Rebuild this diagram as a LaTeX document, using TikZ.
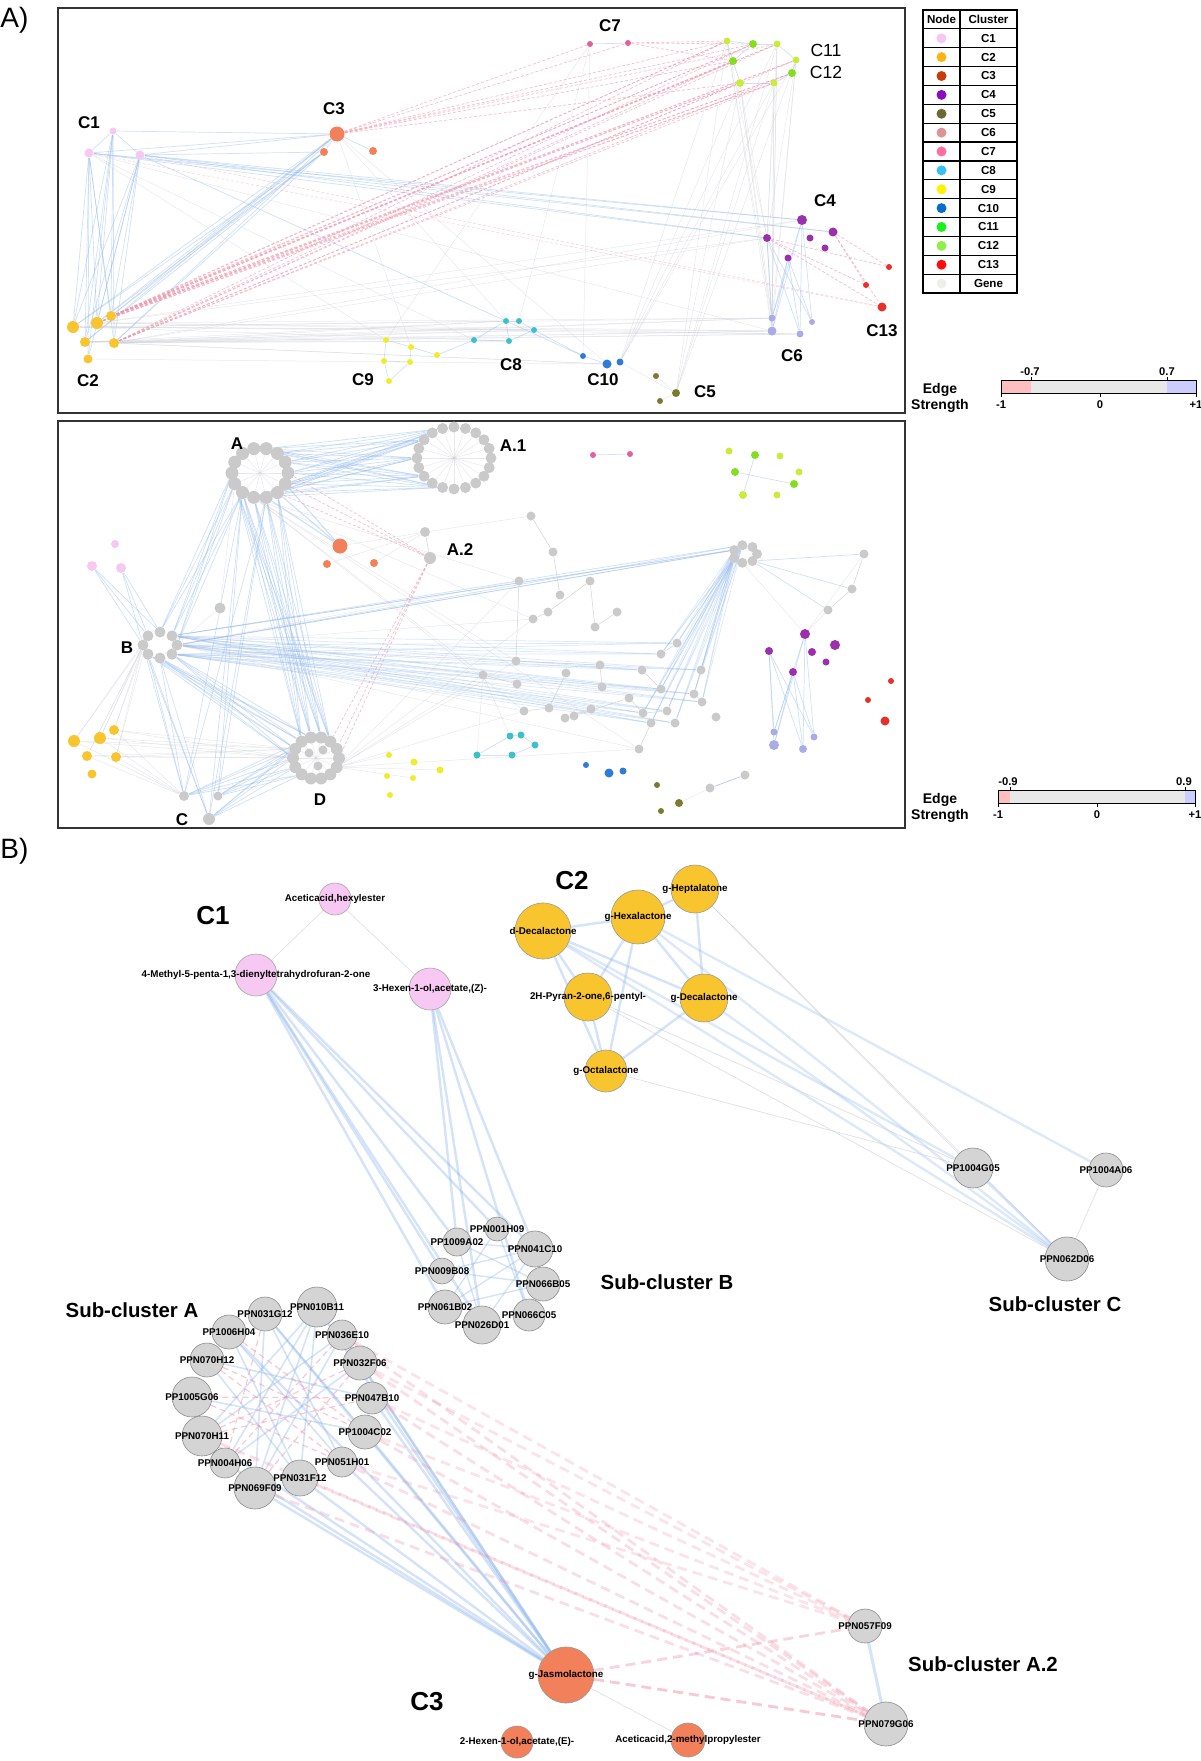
\documentclass[tikz,border=0pt]{standalone}
\usepackage{fontspec}
\setmainfont{Liberation Sans}
\usetikzlibrary{calc, backgrounds}

% legend colours
\definecolor{cone}{HTML}{F7C6F1}
\definecolor{ctwo}{HTML}{FFB412}
\definecolor{cthree}{HTML}{C93C0A}
\definecolor{cfour}{HTML}{8A0DC0}
\definecolor{cfive}{HTML}{6A6A32}
\definecolor{csix}{HTML}{D99494}
\definecolor{cseven}{HTML}{FF6E9C}
\definecolor{ceight}{HTML}{33C3F3}
\definecolor{cnine}{HTML}{FFF200}
\definecolor{cten}{HTML}{0A6EC8}
\definecolor{celeven}{HTML}{19F019}
\definecolor{ctwelve}{HTML}{8CF046}
\definecolor{cthirteen}{HTML}{FF0D0D}
\definecolor{cgene}{HTML}{EFEFEA}
% network colours
\definecolor{coneN}{HTML}{F6C8F2}
\definecolor{ctwoN}{HTML}{F8C52E}
\definecolor{cthreeN}{HTML}{F2805A}
\definecolor{cfourN}{HTML}{9C2FAE}
\definecolor{cfiveN}{HTML}{7A7A30}
\definecolor{csixN}{HTML}{ABABE8}
\definecolor{csevenN}{HTML}{E1609F}
\definecolor{ceightN}{HTML}{3CC0CC}
\definecolor{cnineN}{HTML}{F0EC2A}
\definecolor{ctenN}{HTML}{2F7BDA}
\definecolor{celevenN}{HTML}{86DC1E}
\definecolor{ctwelveN}{HTML}{C8EC3C}
\definecolor{cthirteenN}{HTML}{E5302C}
\definecolor{netgray}{HTML}{CACACA}
\definecolor{eblue}{HTML}{8FB6EA}
\definecolor{ered}{HTML}{EE93A8}
\definecolor{egray}{HTML}{C4C8D0}

\tikzset{
  ndot/.style={circle, inner sep=0pt, minimum size=#1pt},
  gdot/.style={ndot=#1, fill=netgray},
  bnode/.style={circle, inner sep=0pt, minimum size=#1pt, line width=0.3pt,
    font=\fontsize{4.9}{5}\selectfont\bfseries},
  pinkB/.style={fill=coneN, draw=black!35},
  goldB/.style={fill=ctwoN, draw=black!40},
  oranB/.style={fill=cthreeN, draw=black!40},
  grayB/.style={fill=black!17, draw=black!45},
  posE/.style={draw=eblue, line width=0.35pt, opacity=0.42},
  negE/.style={draw=ered, line width=0.35pt, dash pattern=on 1.5pt off 1pt, opacity=0.6},
  weakE/.style={draw=egray, line width=0.25pt, opacity=0.4},
  bposE/.style={draw=eblue, line width=1.2pt, opacity=0.38},
  bnegE/.style={draw=ered, line width=1.4pt, dash pattern=on 5pt off 3pt, opacity=0.5},
  bweakE/.style={draw=egray, line width=0.4pt, opacity=0.5},
  frame/.style={draw=black!80, line width=0.6pt},
  clab/.style={inner sep=0pt, font=\fontsize{8.5}{9}\selectfont\bfseries},
  clabr/.style={inner sep=0pt, font=\fontsize{8.8}{9}\selectfont},
  slab/.style={inner sep=0pt, font=\fontsize{10.2}{11}\selectfont\bfseries},
  glab/.style={inner sep=0pt, font=\fontsize{13}{14}\selectfont\bfseries},
  keytxt/.style={inner sep=0pt, font=\fontsize{5.8}{6}\selectfont\bfseries},
  bartxt/.style={inner sep=0pt, font=\fontsize{5.6}{6}\selectfont\bfseries},
  edgetxt/.style={inner sep=0pt, font=\fontsize{7}{8}\selectfont\bfseries},
  panel/.style={anchor=west, inner sep=0pt, font=\fontsize{14}{16}\selectfont},
}

\begin{document}
\begin{tikzpicture}[x=0.5pt, y=-0.5pt]
  \useasboundingbox (0,0) rectangle (1200,1761);

  % ================= A) top network =================
  \node[panel] (tagA) at (0,20) {A)};
  \draw[frame] (58,8) rectangle (905,413);

  % Metabolite clusters
  \foreach \n/\x/\y/\sz in {a/113/131/3.5, b/89/153/4.5, c/140/155/4.5}
    \node[ndot=\sz, fill=coneN] (tC1\n) at (\x,\y) {};
  \foreach \n/\x/\y/\sz in {a/73/327/6, b/97/323/6, c/111/316/5, d/85/342/5, e/114/343/5, f/88/359/4.5}
    \node[ndot=\sz, fill=ctwoN] (tC2\n) at (\x,\y) {};
  \foreach \n/\x/\y/\sz in {a/337/134/7.5, b/324/152/4, c/373/151/4}
    \node[ndot=\sz, fill=cthreeN] (tC3\n) at (\x,\y) {};
  \foreach \n/\x/\y/\sz in {a/590/44/3, b/628/43/3}
    \node[ndot=\sz, fill=csevenN] (tC7\n) at (\x,\y) {};
  \foreach \n/\x/\y/\sz in {b/753/44/4, d/733/61/4, f/792/73/4}
    \node[ndot=\sz, fill=celevenN] (tG\n) at (\x,\y) {};
  \foreach \n/\x/\y/\sz in {a/727/41/3.5, c/777/44/3.5, e/796/60/3.5, g/740/83/4, h/774/83/3.5}
    \node[ndot=\sz, fill=ctwelveN] (tG\n) at (\x,\y) {};
  \foreach \n/\x/\y/\sz in {a/802/220/5, b/833/232/4.5, c/767/238/4, d/810/238/3.5, e/825/248/3.5, f/788/258/3.5}
    \node[ndot=\sz, fill=cfourN] (tC4\n) at (\x,\y) {};
  \foreach \n/\x/\y/\sz in {a/889/267/3, b/866/285/3, c/882/307/4.5}
    \node[ndot=\sz, fill=cthirteenN] (tC13\n) at (\x,\y) {};
  \foreach \n/\x/\y/\sz in {a/772/318/3.5, b/812/322/3, c/772/331/4.5, d/800/334/3.5}
    \node[ndot=\sz, fill=csixN] (tC6\n) at (\x,\y) {};
  \foreach \n/\x/\y/\sz in {a/506/321/3, b/519/321/3, c/534/330/3, d/474/340/3, e/509/341/3}
    \node[ndot=\sz, fill=ceightN] (tC8\n) at (\x,\y) {};
  \foreach \n/\x/\y/\sz in {a/386/340/3, b/411/347/3, c/437/355/3, d/384/361/3, e/410/362/3, f/389/381/3}
    \node[ndot=\sz, fill=cnineN] (tC9\n) at (\x,\y) {};
  \foreach \n/\x/\y/\sz in {a/583/356/3, b/607/364/4.5, c/620/362/3.5}
    \node[ndot=\sz, fill=ctenN] (tC10\n) at (\x,\y) {};
  \foreach \n/\x/\y/\sz in {a/656/376/3, b/676/393/4, c/660/401/3}
    \node[ndot=\sz, fill=cfiveN] (tC5\n) at (\x,\y) {};

  % Cluster labels
  \foreach \n/\x/\y in {C1/89/123, C2/88/381, C3/334/109, C7/610/26, C4/825/201,
                        C13/882/331, C6/792/356, C8/511/365, C9/363/380, C10/603/380, C5/705/392}
    \node[clab] (tl\n) at (\x,\y) {\n};
  \node[clabr] (tlC11) at (826,50) {C11};
  \node[clabr] (tlC12) at (826,72) {C12};

  % ================= A) bottom network =================
  \draw[frame] (58,421) rectangle (905,828);

  % Gene rings
  \foreach \k in {1,...,14}
    \node[gdot=6.5] (rA\k) at ($(260,473)+(\k*360/14:28 and 25)$) {};
  \foreach \k in {1,...,20}
    \node[gdot=5.5] (rAo\k) at ($(454,458)+(\k*360/20:37 and 31)$) {};
  \foreach \k in {1,...,8}
    \node[gdot=5.5] (rB\k) at ($(160,645)+(\k*360/8:17 and 13)$) {};
  \foreach \k in {1,...,14}
    \node[gdot=6] (rD\k) at ($(316,758)+(\k*360/14:23 and 21)$) {};
  \foreach \k in {1,...,7}
    \node[gdot=5] (rR\k) at ($(745,554)+(\k*360/7:12 and 9)$) {};
  \node[gdot=4.5] (rDi1) at (309,753) {};
  \node[gdot=4.5] (rDi2) at (323,750) {};
  \node[gdot=4.5] (rDi3) at (318,766) {};

  % Single genes
  \foreach \x/\y [count=\i] in {553/552, 519/581, 590/581, 560/595, 548/612, 533/619, 617/612, 595/627,
      677/643, 661/654, 516/661, 600/665, 642/670, 701/670, 566/673, 483/675, 517/684, 602/687,
      661/689, 694/694, 629/698, 702/702, 549/708, 524/711, 591/709, 643/713, 667/711, 565/718,
      574/716, 651/723, 675/723, 716/717, 639/749, 864/554, 852/589, 828/610, 710/788, 745/775, 531/516}
    \node[gdot=4.5] (m\i) at (\x,\y) {};
  \node[gdot=5] (bA2a) at (425,532) {};
  \node[gdot=6] (bA2b) at (430,558) {};
  \node[gdot=5.5] (bLone) at (220,608) {};
  \node[gdot=5] (bCa) at (184,796) {};
  \node[gdot=6] (bCb) at (209,819) {};
  \node[gdot=4.5] (bCc) at (218,796) {};

  % Metabolite clusters
  \foreach \n/\x/\y/\sz in {a/115/544/4, b/92/566/5, c/121/568/5}
    \node[ndot=\sz, fill=coneN] (bC1\n) at (\x,\y) {};
  \foreach \n/\x/\y/\sz in {a/74/741/6, b/100/738/6, c/114/730/5, d/87/756/5, e/116/757/5, f/92/774/4.5}
    \node[ndot=\sz, fill=ctwoN] (bC2\n) at (\x,\y) {};
  \foreach \n/\x/\y/\sz in {a/340/546/7.5, b/327/564/4, c/374/563/4}
    \node[ndot=\sz, fill=cthreeN] (bC3\n) at (\x,\y) {};
  \foreach \n/\x/\y/\sz in {a/593/455/3, b/630/454/3}
    \node[ndot=\sz, fill=csevenN] (bC7\n) at (\x,\y) {};
  \foreach \n/\x/\y/\sz in {b/755/455/4, d/735/472/4, f/794/484/4}
    \node[ndot=\sz, fill=celevenN] (bG\n) at (\x,\y) {};
  \foreach \n/\x/\y/\sz in {a/729/451/3.5, c/780/456/3.5, e/799/472/3.5, g/743/495/4, h/777/495/3.5}
    \node[ndot=\sz, fill=ctwelveN] (bG\n) at (\x,\y) {};
  \foreach \n/\x/\y/\sz in {a/805/634/5, b/835/645/5, c/769/651/4, d/812/652/4, e/826/662/3.5, f/793/672/4}
    \node[ndot=\sz, fill=cfourN] (bC4\n) at (\x,\y) {};
  \foreach \n/\x/\y/\sz in {a/891/681/3, b/868/700/3, c/885/721/4.5}
    \node[ndot=\sz, fill=cthirteenN] (bC13\n) at (\x,\y) {};
  \foreach \n/\x/\y/\sz in {a/774/732/3.5, b/814/737/3.5, c/774/745/5, d/803/749/4}
    \node[ndot=\sz, fill=csixN] (bC6\n) at (\x,\y) {};
  \foreach \n/\x/\y/\sz in {a/510/736/3.5, b/521/735/3.5, c/535/745/3.5, d/477/755/3.5, e/512/755/3.5}
    \node[ndot=\sz, fill=ceightN] (bC8\n) at (\x,\y) {};
  \foreach \n/\x/\y/\sz in {a/389/755/3, b/414/762/3.5, c/440/770/3.5, d/387/776/3, e/413/778/3, f/390/795/3}
    \node[ndot=\sz, fill=cnineN] (bC9\n) at (\x,\y) {};
  \foreach \n/\x/\y/\sz in {a/586/765/3, b/609/773/4.5, c/623/771/3.5}
    \node[ndot=\sz, fill=ctenN] (bC10\n) at (\x,\y) {};
  \foreach \n/\x/\y/\sz in {a/657/785/3, b/679/803/4, c/661/811/3}
    \node[ndot=\sz, fill=cfiveN] (bC5\n) at (\x,\y) {};

  % Sub-cluster labels
  \foreach \n/\x/\y in {A/237/444, A.1/513/446, A.2/460/550, B/127/648, C/182/820, D/320/800}
    \node[clab] (bl\n) at (\x,\y) {\n};

  % ================= Legend =================
  \draw[line width=0.6pt] (923,10) rectangle (1017,293);
  \draw[line width=0.6pt] (960,10) -- (960,293);
  \foreach \i in {1,...,14}
    \draw[line width=0.6pt] (923,{10+18.87*\i}) -- (1017,{10+18.87*\i});
  \node[keytxt] (keyhA) at (941.5,19.4) {Node};
  \node[keytxt] (keyhB) at (988.5,19.4) {Cluster};
  \foreach \i/\cl/\tx in {1/cone/C1, 2/ctwo/C2, 3/cthree/C3, 4/cfour/C4, 5/cfive/C5, 6/csix/C6,
      7/cseven/C7, 8/ceight/C8, 9/cnine/C9, 10/cten/C10, 11/celeven/C11, 12/ctwelve/C12,
      13/cthirteen/C13, 14/cgene/Gene} {
    \node[ndot=5, fill=\cl] (key\i) at (941.5,{19.4+18.87*\i}) {};
    \node[keytxt] (keyt\i) at (988.5,{19.4+18.87*\i}) {\tx};
  }

  % ================= Edge strength bars =================
  \fill[red!25] (1001,380) rectangle (1031,393);
  \fill[black!9] (1031,380) rectangle (1167,393);
  \fill[blue!20] (1167,380) rectangle (1196,393);
  \draw[line width=0.5pt] (1001,380) rectangle (1196,393);
  \foreach \x in {1001,1100,1196} \draw[line width=0.5pt] (\x,393) -- (\x,397);
  \foreach \x in {1031,1167} \draw[line width=0.5pt] (\x,377) -- (\x,380);
  \node[bartxt, anchor=south] (barAlo) at (1030,376) {-0.7};
  \node[bartxt, anchor=south] (barAhi) at (1167,376) {0.7};
  \node[bartxt, anchor=north] (barAm) at (1001,400) {-1};
  \node[bartxt, anchor=north] (barAz) at (1100,400) {0};
  \node[bartxt, anchor=north] (barAp) at (1196,400) {+1};
  \node[edgetxt] (edgeA) at (940,390) {Edge};
  \node[edgetxt] (strA) at (940,406) {Strength};

  \fill[red!25] (998,790) rectangle (1010,803);
  \fill[black!9] (1010,790) rectangle (1185,803);
  \fill[blue!20] (1185,790) rectangle (1195,803);
  \draw[line width=0.5pt] (998,790) rectangle (1195,803);
  \foreach \x in {998,1097,1195} \draw[line width=0.5pt] (\x,803) -- (\x,807);
  \foreach \x in {1010,1185} \draw[line width=0.5pt] (\x,787) -- (\x,790);
  \node[bartxt, anchor=south] (barBlo) at (1008,786) {-0.9};
  \node[bartxt, anchor=south] (barBhi) at (1184,786) {0.9};
  \node[bartxt, anchor=north] (barBm) at (998,810) {-1};
  \node[bartxt, anchor=north] (barBz) at (1097,810) {0};
  \node[bartxt, anchor=north] (barBp) at (1195,810) {+1};
  \node[edgetxt] (edgeB) at (940,800) {Edge};
  \node[edgetxt] (strB) at (940,816) {Strength};

  % ================= B) detail network =================
  \node[panel] (tagB) at (0,851) {B)};

  % C1
  \node[bnode=16, pinkB] (hexyl) at (335,899) {\makebox[0pt]{Aceticacid,hexylester}};
  \node[bnode=21, pinkB] (methyl) at (256,975) {\makebox[0pt]{4-Methyl-5-penta-1,3-dienyltetrahydrofuran-2-one}};
  \node[bnode=21, pinkB] (hexenZ) at (430,989) {\makebox[0pt]{3-Hexen-1-ol,acetate,(Z)-}};
  % C2
  \node[bnode=28, goldB] (dDeca) at (543,931) {\makebox[0pt]{d-Decalactone}};
  \node[bnode=27, goldB] (gHexa) at (638,917) {\makebox[0pt]{g-Hexalactone}};
  \node[bnode=24, goldB] (gHepta) at (695,889) {\makebox[0pt]{g-Heptalatone}};
  \node[bnode=24, goldB] (pyran) at (588,997) {\makebox[0pt]{2H-Pyran-2-one,6-pentyl-}};
  \node[bnode=24, goldB] (gDeca) at (704,998) {\makebox[0pt]{g-Decalactone}};
  \node[bnode=21, goldB] (gOcta) at (606,1071) {\makebox[0pt]{g-Octalactone}};
  % Sub-cluster C
  \node[bnode=20, grayB] (g05) at (973,1168) {\makebox[0pt]{PP1004G05}};
  \node[bnode=17, grayB] (a06) at (1106,1170) {\makebox[0pt]{PP1004A06}};
  \node[bnode=22, grayB] (d06) at (1067,1259) {\makebox[0pt]{PPN062D06}};
  % Sub-cluster B
  \node[bnode=12, grayB] (h09) at (497,1229) {\makebox[0pt]{PPN001H09}};
  \node[bnode=14, grayB] (a02) at (457,1242) {\makebox[0pt]{PP1009A02}};
  \node[bnode=18, grayB] (c10) at (535,1249) {\makebox[0pt]{PPN041C10}};
  \node[bnode=13, grayB] (b08) at (442,1271) {\makebox[0pt]{PPN009B08}};
  \node[bnode=17, grayB] (b05) at (543,1284) {\makebox[0pt]{PPN066B05}};
  \node[bnode=17, grayB] (b02) at (445,1307) {\makebox[0pt]{PPN061B02}};
  \node[bnode=16, grayB] (c05) at (529,1315) {\makebox[0pt]{PPN066C05}};
  \node[bnode=19, grayB] (d01) at (482,1325) {\makebox[0pt]{PPN026D01}};
  % Sub-cluster A
  \node[bnode=17, grayB] (g12) at (265,1314) {\makebox[0pt]{PPN031G12}};
  \node[bnode=20, grayB] (b11) at (317,1307) {\makebox[0pt]{PPN010B11}};
  \node[bnode=17, grayB] (h04) at (229,1332) {\makebox[0pt]{PP1006H04}};
  \node[bnode=15, grayB] (e10) at (342,1335) {\makebox[0pt]{PPN036E10}};
  \node[bnode=17, grayB] (h12) at (207,1360) {\makebox[0pt]{PPN070H12}};
  \node[bnode=17, grayB] (f06) at (360,1363) {\makebox[0pt]{PPN032F06}};
  \node[bnode=20, grayB] (g06) at (192,1397) {\makebox[0pt]{PP1005G06}};
  \node[bnode=16, grayB] (b10) at (372,1398) {\makebox[0pt]{PPN047B10}};
  \node[bnode=20, grayB] (h11) at (202,1436) {\makebox[0pt]{PPN070H11}};
  \node[bnode=17, grayB] (c02) at (365,1432) {\makebox[0pt]{PP1004C02}};
  \node[bnode=15, grayB] (h06) at (225,1463) {\makebox[0pt]{PPN004H06}};
  \node[bnode=15, grayB] (h01) at (342,1462) {\makebox[0pt]{PPN051H01}};
  \node[bnode=21, grayB] (f09) at (255,1488) {\makebox[0pt]{PPN069F09}};
  \node[bnode=18, grayB] (f12) at (300,1478) {\makebox[0pt]{PPN031F12}};
  % Sub-cluster A.2
  \node[bnode=17, grayB] (p57) at (865,1626) {\makebox[0pt]{PPN057F09}};
  \node[bnode=22, grayB] (p79) at (886,1724) {\makebox[0pt]{PPN079G06}};
  % C3
  \node[bnode=28, oranB] (jasmo) at (566,1675) {\makebox[0pt]{g-Jasmolactone}};
  \node[bnode=16, oranB] (hexenE) at (517,1742) {\makebox[0pt]{2-Hexen-1-ol,acetate,(E)-}};
  \node[bnode=17, oranB] (methprop) at (688,1740) {\makebox[0pt]{Aceticacid,2-methylpropylester}};

  % Group labels
  \node[glab] (gC1) at (213,916) {C1};
  \node[glab] (gC2) at (572,881) {C2};
  \node[glab] (gC3) at (427,1702) {C3};
  \node[slab] (sA) at (132,1310) {Sub-cluster A};
  \node[slab] (sB) at (667,1282) {Sub-cluster B};
  \node[slab] (sC) at (1055,1304) {Sub-cluster C};
  \node[slab] (sA2) at (983,1664) {Sub-cluster A.2};

  % ================= Connectors =================
  \begin{scope}[on background layer]
    % --- top network
    \foreach \ii in {a,b,c} \foreach \jj in {a,b,c,d,e,f} \draw[posE] (tC1\ii) -- (tC2\jj);
    \foreach \ii in {b,c} \foreach \jj in {a,b,c} \draw[posE] (tC1\ii) -- (tC4\jj);
    \foreach \ii in {a,b,c} \draw[posE] (tC1\ii) -- (tC3a);
    \draw[posE] (tC1c) -- (tC3b);
    \foreach \ii in {a,b} \foreach \jj in {a,b,c,d,e} \draw[posE] (tC3\ii) -- (tC2\jj);
    \foreach \ii in {b,c,e} \foreach \jj in {a,b,c,d,e,f,g,h} \draw[negE] (tC2\ii) -- (tG\jj);
    \foreach \jj in {a,b,c,d,g} \draw[negE] (tC3a) -- (tG\jj);
    \foreach \jj in {a,b} \draw[negE] (tC3a) -- (tC7\jj);
    \foreach \jj in {a,b,d} \draw[negE] (tC7b) -- (tG\jj);
    \foreach \ii in {b,c} \draw[negE, opacity=0.35] (tC1\ii) -- (tC13c);
    \foreach \ii in {b,c} \foreach \jj in {a,b,c} \draw[negE] (tC4\ii) -- (tC13\jj);
    \foreach \ii in {a,c,f} \foreach \jj in {a,b,c,d} \draw[posE] (tC4\ii) -- (tC6\jj);
    \foreach \ii in {a,b,d,e} \foreach \jj in {a,c,d} \draw[weakE] (tC2\ii) -- (tC6\jj);
    \foreach \ii in {a,d,e} \foreach \jj in {a,c,e} \draw[weakE] (tC2\ii) -- (tC8\jj);
    \foreach \ii in {b,e} \foreach \jj in {c,a} \draw[weakE] (tC2\ii) -- (tC4\jj);
    \foreach \ii in {d,e,f} \draw[weakE] (tC2\ii) -- (tC10b);
    \foreach \ii/\jj in {a/b, a/d, b/c, d/e, c/e, a/e} \draw[posE] (tC8\ii) -- (tC8\jj);
    \foreach \ii/\jj in {a/b, b/c, b/e, d/e, a/d, e/f, d/f} \draw[posE] (tC9\ii) -- (tC9\jj);
    \draw[posE] (tC9c) -- (tC8d); \draw[posE] (tC8c) -- (tC10a); \draw[posE] (tC10a) -- (tC10b);
    \draw[weakE] (tC10c) -- (tC5b); \draw[weakE] (tC5a) -- (tC5b); \draw[weakE] (tC5b) -- (tC5c);
    \foreach \ii in {a,c,e,g,h} \foreach \jj in {tC6a,tC6c,tC5b,tC10c,tC4c} \draw[weakE] (tG\ii) -- (\jj);
    \foreach \ii/\jj in {a/b, b/c, a/d, d/g, g/h, c/e, e/f, b/d, f/h} \draw[posE] (tG\ii) -- (tG\jj);
    \draw[posE] (tC7a) -- (tC7b);
    \foreach \jj in {tC8b,tC9a,tC10a} \draw[weakE] (tC7a) -- (\jj);
    \foreach \jj in {tC8a,tC9b,tC10b} \draw[weakE] (tC3a) -- (\jj);
    \foreach \jj in {tC9a,tC8d,tC6c} \draw[weakE] (tC1b) -- (\jj);
    \draw[posE] (tC1c) -- (tC10a);
    \draw[posE] (tC3a) -- (tC3b); \draw[posE] (tC3a) -- (tC3c);
    \draw[posE] (tC1a) -- (tC1b); \draw[posE] (tC1a) -- (tC1c);

    % --- bottom network
    \foreach \ii in {1,2,4,11,12,13,14} \foreach \jj in {6,8,10,12,14} \draw[posE] (rA\ii) -- (rAo\jj);
    \foreach \ii [evaluate=\ii as \jj using int(\ii+7)] in {1,...,7} \draw[weakE] (rA\ii) -- (rA\jj);
    \foreach \ii [evaluate=\ii as \jj using int(\ii+10)] in {1,...,10} \draw[weakE] (rAo\ii) -- (rAo\jj);
    \foreach \ii [evaluate=\ii as \jj using int(\ii+7)] in {1,...,7} \draw[weakE] (rD\ii) -- (rD\jj);
    \foreach \ii in {2,3,4,5,6} \foreach \jj in {9,10,11,12} \draw[posE] (rA\ii) -- (rD\jj);
    \foreach \ii in {3,5} \foreach \jj in {bCa,bCb,bCc} \draw[posE] (rA\ii) -- (\jj);
    \foreach \ii in {1,2,3} \draw[posE, line width=0.6pt] (rA\ii) -- (bC3a);
    \foreach \ii in {1,2,14} \draw[negE] (rA\ii) -- (bA2b);
    \foreach \jj in {12,13,14} \draw[negE] (bA2b) -- (rD\jj);
    \foreach \ii in {5,6,7} \foreach \jj in {6,7,8} \draw[posE] (rA\ii) -- (rB\jj);
    \foreach \ii in {1,7,8} \foreach \jj in {9,10,13,14,19,20,22,26,27,30,31} \draw[posE, opacity=0.32] (rB\ii) -- (m\jj);
    \foreach \ii in {7,8} \foreach \jj in {4,5,6} \draw[posE] (rB\ii) -- (rR\jj);
    \foreach \ii in {1,2,3} \foreach \jj in {7,8,9,10} \draw[posE] (rB\ii) -- (rD\jj);
    \foreach \ii in {2,3,4} \foreach \jj in {bCa,bCb} \draw[posE] (rB\ii) -- (\jj);
    \foreach \ii in {5,6,7,8,9} \foreach \jj in {bCa,bCb,bCc} \draw[posE] (\jj) -- (rD\ii);
    \foreach \ii in {b,c} \foreach \jj in {4,5,6} \draw[posE] (bC1\ii) -- (rB\jj);
    \foreach \ii in {3,4,5} \foreach \jj in {9,10,14,19,20,22,26,27,30,31} \draw[posE, opacity=0.32] (rR\ii) -- (m\jj);
    \foreach \jj in {34,35,36} \draw[posE] (rR1) -- (m\jj);
    \foreach \ii/\jj in {39/1, 1/4, 3/5, 5/6, 7/8, 8/3, 12/18, 15/23, 23/24, 21/26, 26/27, 33/30,
        37/38, 34/35, 35/36, 22/20, 20/14, 19/13, 25/28, 10/9, 29/21, 2/11, 16/17, 11/12}
      \draw[weakE, opacity=0.8] (m\ii) -- (m\jj);
    \foreach \ii in {2,6,11,16,24,33} \foreach \jj in {rA4,rB8,rD1} \draw[weakE] (m\ii) -- (\jj);
    \draw[weakE, opacity=0.8] (bA2a) -- (bA2b); \draw[weakE] (bA2a) -- (m39);
    \draw[weakE] (bLone) -- (rB2); \draw[weakE] (bLone) -- (rA6);
    \foreach \ii in {a,b,c,d,e} \foreach \jj in {rB4,rB5,rD7,rD8,bCa} \draw[weakE] (bC2\ii) -- (\jj);
    \foreach \ii in {a,c,e} \draw[weakE] (bC9\ii) -- (rD1);
    \foreach \ii in {a,d} \draw[weakE] (bC8\ii) -- (m16);
    \foreach \ii in {a,b,c} \draw[weakE] (bC3\ii) -- (bA2a);
    \foreach \ii in {a,c,f} \foreach \jj in {a,b,c,d} \draw[posE] (bC4\ii) -- (bC6\jj);
    \foreach \ii/\jj in {a/b, a/d, b/c, d/e, c/e} \draw[posE] (bC8\ii) -- (bC8\jj);
    \draw[posE] (bGd) -- (bGf); \draw[posE] (bGb) -- (bGg);
    \draw[posE] (bC7a) -- (bC7b);
    \draw[weakE] (bC5b) -- (m37); \draw[posE] (m37) -- (m38);
    \foreach \jj in {m34,m36,rR2} \draw[weakE] (bC4a) -- (\jj);

    % --- B) detail network
    \foreach \tg in {a02,b08,b02,d01,c10,h09} \draw[bposE] (methyl) -- (\tg);
    \foreach \tg in {c10,d01,c05,a02} \draw[bposE] (hexenZ) -- (\tg);
    \draw[bweakE] (hexyl) -- (methyl); \draw[bweakE] (hexyl) -- (hexenZ);
    \foreach \src/\tg in {dDeca/gHexa, dDeca/pyran, dDeca/gDeca, dDeca/gOcta, gHexa/gHepta,
        gHexa/gDeca, gHexa/pyran, gHexa/gOcta, gHepta/gDeca, pyran/gOcta, gDeca/gOcta}
      \draw[bposE] (\src) -- (\tg);
    \foreach \src/\tg in {dDeca/d06, dDeca/g05, gHexa/a06, gDeca/d06, gHexa/d06}
      \draw[bposE, opacity=0.3] (\src) -- (\tg);
    \foreach \src/\tg in {gHepta/g05, gHepta/d06, pyran/d06, gOcta/g05, pyran/g05}
      \draw[bweakE] (\src) -- (\tg);
    \draw[bposE] (g05) -- (d06); \draw[bweakE] (a06) -- (d06);
    \foreach \src/\tg in {a02/c10, b08/c10, b02/c10, a02/b05, b08/b05, b02/h09, d01/c10,
        b02/b05, a02/d01, h09/c05}
      \draw[bposE, line width=0.7pt] (\src) -- (\tg);
    \foreach \src/\tg in {g12/f09, b11/f12, h04/h01, g12/c02, b11/h11, e10/f09, h12/b10,
        g06/c02, h04/f12, b11/h06, g12/h01, h12/f12, e10/h11, f06/h06, b11/f09}
      \draw[bposE, line width=0.8pt] (\src) -- (\tg);
    \foreach \src/\tg in {h12/c02, g06/b10, h11/f06, h04/c02, h06/e10, g06/h01, h12/h01,
        h11/b10, f09/f06, g12/h06}
      \draw[bnegE, line width=0.6pt, dash pattern=on 3pt off 2pt] (\src) -- (\tg);
    \foreach \src in {f09,f12,h01,c02,b10,f06,e10,b11,g12,h06,h11,h04}
      \draw[bposE] (\src) -- (jasmo);
    \foreach \src in {f06,b10,c02,h01,f12,f09,h11,e10}
      \draw[bnegE, opacity=0.3] (\src) -- (p79);
    \foreach \src in {e10,f06,b10,c02,h01}
      \draw[bnegE, opacity=0.25] (\src) -- (p57);
    \draw[bnegE] (jasmo) -- (p79); \draw[bnegE, opacity=0.4] (jasmo) -- (p57);
    \draw[bposE, line width=1.5pt] (p57) -- (p79);
    \draw[bweakE] (jasmo) -- (methprop);
  \end{scope}

\end{tikzpicture}
\end{document}
